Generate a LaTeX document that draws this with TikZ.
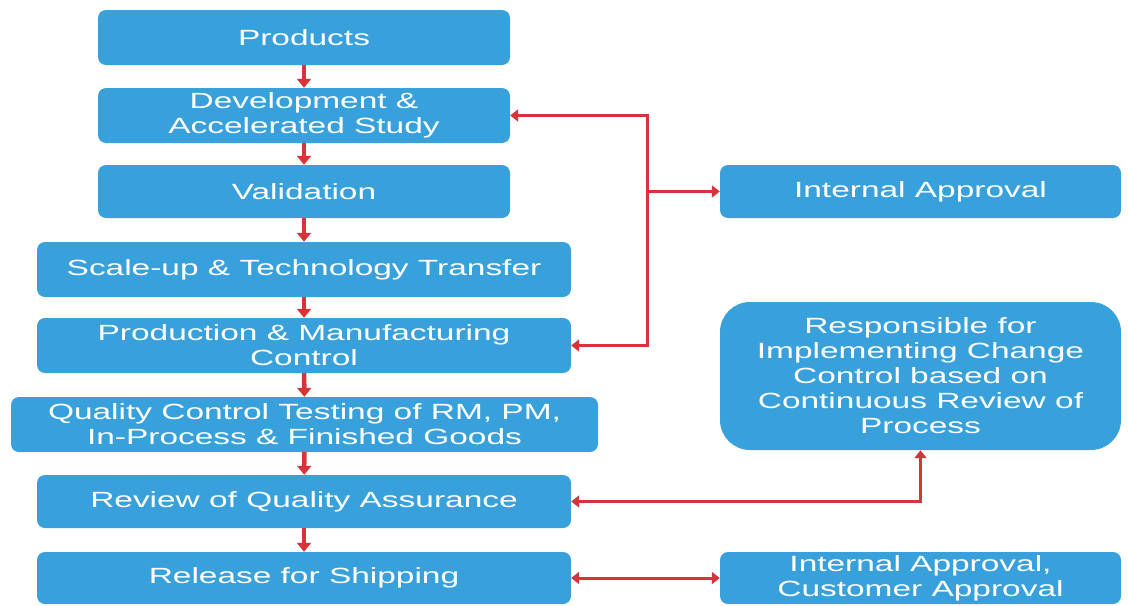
\documentclass[tikz,border=0pt]{standalone}
\usepackage{fontspec}
\setmainfont{Liberation Sans}[FakeStretch=1.52]
\usetikzlibrary{arrows.meta}
\definecolor{boxblue}{RGB}{56,161,219}
\definecolor{linkred}{RGB}{214,52,58}
\begin{document}
\begin{tikzpicture}[x=1pt,y=-1pt,
  flowbox/.style={fill=boxblue, rounded corners=8pt, inner sep=0pt, align=center,
    text=white, font=\fontsize{22}{25}\selectfont},
  conn/.style={draw=linkred, line width=3pt,
    arrows={-Triangle[length=8pt,width=12pt]}, >={Triangle[length=8pt,width=12pt]}},
  tip/.style={draw=linkred, line width=4.5pt, -{Triangle[length=9pt,width=14pt]}}]
\useasboundingbox (0,0) rectangle (1129,605);
% left column
\node[flowbox, minimum width=412pt, minimum height=55pt] (prod) at (304,37.5) {Products};
\node[flowbox, minimum width=412pt, minimum height=55pt] (dev) at (304,115.5) {Development \&\\Accelerated Study};
\node[flowbox, minimum width=412pt, minimum height=53pt] (val) at (304,191.5) {Validation};
\node[flowbox, minimum width=534pt, minimum height=55pt] (scale) at (304,269.5) {Scale-up \& Technology Transfer};
\node[flowbox, minimum width=534pt, minimum height=55pt] (prodc) at (304,345.5) {Production \& Manufacturing\\Control};
\node[flowbox, minimum width=587pt, minimum height=55pt] (qc) at (304.5,424.5) {Quality Control Testing of RM, PM,\\In-Process \& Finished Goods};
\node[flowbox, minimum width=534pt, minimum height=53pt] (rev) at (304,501.5) {Review of Quality Assurance};
\node[flowbox, minimum width=534pt, minimum height=52pt] (rel) at (304,578) {Release for Shipping};
% right column
\node[flowbox, minimum width=401pt, minimum height=53pt] (ia) at (920.5,191.5) {Internal Approval};
\node[flowbox, rounded corners=30pt, minimum width=401pt, minimum height=148pt] (resp) at (920.5,376) {Responsible for\\Implementing Change\\Control based on\\Continuous Review of\\Process};
\node[flowbox, minimum width=401pt, minimum height=52pt] (ica) at (920.5,578) {Internal Approval,\\Customer Approval};
% main flow arrows
\draw[tip] (prod) -- (dev);
\draw[tip] (dev) -- (val);
\draw[tip] (val) -- (scale);
\draw[tip] (scale) -- (prodc);
\draw[tip] (prodc) -- (qc);
\draw[tip] (qc) -- (rev);
\draw[tip] (rev) -- (rel);
% feedback loop
\coordinate (jt) at (647,115.5);
\coordinate (jb) at (647,345.5);
\draw[conn, <->] (dev.east) -- (jt) -- (jb) -- (prodc.east);
\draw[conn, ->] (jt |- ia.west) -- (ia.west);
% review to responsible
\draw[conn, <->] (rev.east) -| (resp.south);
% release to approval
\draw[conn, <->] (rel.east) -- (ica.west);
\end{tikzpicture}
\end{document}
